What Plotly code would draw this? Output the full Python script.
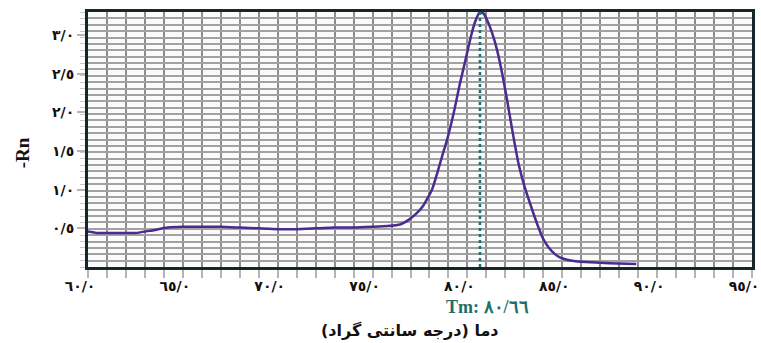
import plotly.graph_objects as go

# Melt-curve data (temperature in °C, -Rn derivative)
temp = [60.0, 60.5, 61.5, 62.5, 63.3, 64.2, 65.0, 66.0, 67.0, 68.0, 69.0, 70.0,
        71.0, 72.0, 73.0, 74.0, 75.0, 75.8, 76.45, 76.9, 77.3, 77.66, 78.13,
        78.45, 78.71, 78.92, 79.3, 79.61, 79.9, 80.14, 80.4, 80.66, 80.85,
        81.03, 81.3, 81.56, 81.85, 82.09, 82.4, 82.7, 83.0, 83.36, 83.73, 84.0,
        84.26, 84.6, 84.9, 85.3, 85.8, 86.5, 87.5, 88.9]
rn = [0.46, 0.44, 0.44, 0.44, 0.47, 0.51, 0.52, 0.52, 0.52, 0.51, 0.50, 0.49,
      0.49, 0.50, 0.51, 0.51, 0.52, 0.53, 0.55, 0.61, 0.69, 0.79, 1.00,
      1.25, 1.47, 1.64, 2.02, 2.38, 2.68, 2.94, 3.17, 3.30, 3.28,
      3.20, 3.03, 2.81, 2.48, 2.16, 1.72, 1.33, 1.05, 0.78, 0.52, 0.36,
      0.26, 0.17, 0.12, 0.09, 0.07, 0.06, 0.05, 0.04]

tm = 80.66
tm_label = "Tm: ٨٠/٦٦"

x_tickvals = [60, 65, 70, 75, 80, 85, 90, 95]
x_ticktext = ["٦٠/٠", "٦٥/٠", "٧٠/٠", "٧٥/٠", "٨٠/٠", "٨٥/٠", "٩٠/٠", "٩٥/٠"]
y_tickvals = [0.5, 1.0, 1.5, 2.0, 2.5, 3.0]
y_ticktext = ["٠/٥", "١/٠", "١/٥", "٢/٠", "٢/٥", "٣/٠"]

x_title = "دما (درجه سانتی گراد)"
y_title = "-Rn"

fig = go.Figure()
fig.add_trace(go.Scatter(
    x=temp, y=rn, mode="lines",
    line=dict(color="#4a2b8e", width=2.5, shape="spline", smoothing=0.5),
    showlegend=False, hoverinfo="skip",
))

fig.add_shape(type="line", xref="x", yref="paper", x0=tm, x1=tm, y0=0, y1=1,
              line=dict(color="#1e6e6a", width=2.5, dash="dot"), layer="above")

tick_font = dict(family="DejaVu Sans", size=14, color="#111111", weight="bold")

fig.update_xaxes(
    range=[60, 95], tickmode="array", tickvals=x_tickvals, ticktext=x_ticktext,
    showgrid=False, zeroline=False, automargin=False,
    ticks="", ticklabelshift=-8, ticklabelstandoff=4,
    tickfont=tick_font,
    showline=True, mirror=True, linecolor="#16262a", linewidth=3,
    minor=dict(dtick=1, tick0=60, showgrid=True, gridcolor="#8e8e8e", gridwidth=2,
               ticks="outside", ticklen=8, tickcolor="#b5b5b5", tickwidth=1.5),
)
fig.update_yaxes(
    range=[0, 3.3], tickmode="array", tickvals=y_tickvals, ticktext=y_ticktext,
    showgrid=False, zeroline=False, automargin=False,
    ticks="outside", ticklen=8, tickcolor="#b5b5b5", tickwidth=1.5,
    tickfont=tick_font,
    showline=True, mirror=True, linecolor="#16262a", linewidth=3,
    minor=dict(dtick=0.0825, tick0=0, showgrid=True, gridcolor="#a2a2a2", gridwidth=1.6,
               ticks="outside", ticklen=5, tickcolor="#c8c8c8", tickwidth=1),
)

fig.add_annotation(text=tm_label, x=tm, xref="x", xshift=8, y=-0.158, yref="paper",
                   xanchor="center", yanchor="middle", showarrow=False,
                   font=dict(family="Liberation Serif, DejaVu Serif", size=18,
                             color="#1e6e6a", weight="bold"))
fig.add_annotation(text="<b>" + x_title + "</b>", x=0.485, xref="paper", y=-0.248, yref="paper",
                   xanchor="center", yanchor="middle", showarrow=False,
                   font=dict(family="DejaVu Sans", size=16, color="#111111"))
fig.add_annotation(text="<b>" + y_title + "</b>", x=-0.0994, xref="paper", y=0.45, yref="paper",
                   xanchor="center", yanchor="middle", showarrow=False, textangle=-90,
                   font=dict(family="Liberation Serif, DejaVu Serif", size=19, color="#111111"))

fig.update_layout(
    width=761, height=343,
    margin=dict(l=88, r=9, t=12, b=76),
    paper_bgcolor="white", plot_bgcolor="#fbfbfb",
)

fig.write_html("out.html")
